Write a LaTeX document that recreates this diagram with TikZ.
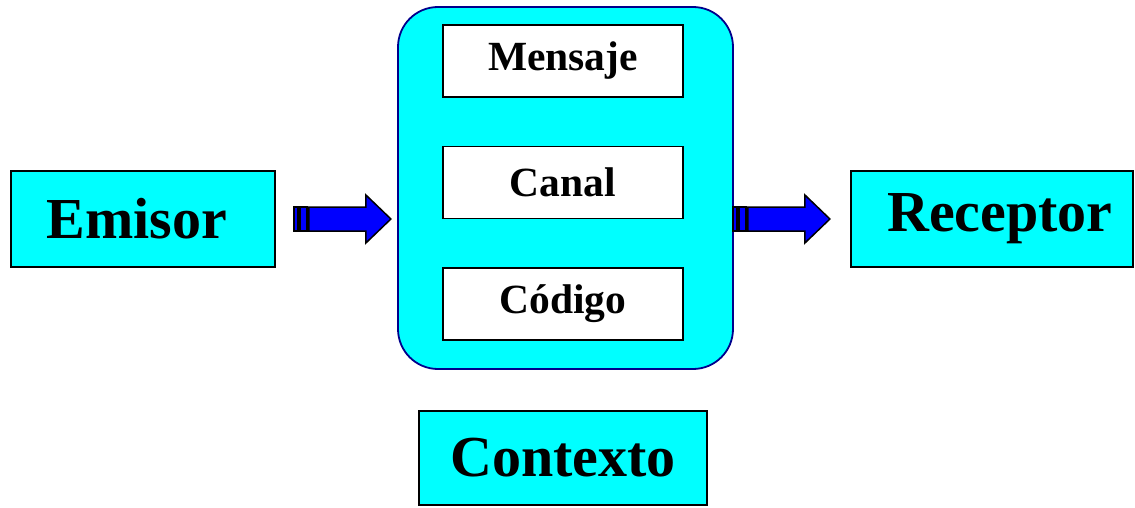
\documentclass[tikz,border=0pt]{standalone}
\usepackage{fontspec}
\setmainfont{Liberation Serif}
\usetikzlibrary{positioning, calc}

\definecolor{boxcyan}{RGB}{0,255,255}
\definecolor{arrowblue}{RGB}{0,0,255}
\definecolor{framenavy}{RGB}{0,0,140}

\begin{document}
\begin{tikzpicture}[
    x=1pt, y=1pt,
    node distance=48pt,
    bigbox/.style={rectangle, draw, line width=1.8pt, fill=boxcyan, text centered, minimum height=96pt, font=\fontsize{58}{60}\selectfont\bfseries},
    element/.style={rectangle, draw, line width=1.6pt, fill=white, text centered, minimum width=240pt, minimum height=72pt, font=\fontsize{41.5}{42}\selectfont\bfseries},
    arrowline/.style={draw=black, line width=1.5pt, fill=arrowblue, line join=miter},
    flecha/.pic={
        \draw[arrowline] (0,-12) rectangle (4,12);
        \draw[arrowline] (6,-12) rectangle (13,12);
        \draw[arrowline] (15,-12) -- (72,-12) -- (72,-24) -- (97,0) -- (72,24) -- (72,12) -- (15,12) -- cycle;
    },
]
\useasboundingbox (0,0) rectangle (1135,507);

% Rounded container with the three elements
\node[rectangle, draw=framenavy, line width=1.8pt, fill=boxcyan, rounded corners=40pt,
      minimum width=335pt, minimum height=362pt] (centro) at (565.5,319) {};
\node[element] (canal) at (563,324.5) {Canal};
\node[element, above=of canal] (mensaje) {Mensaje};
\node[element, below=of canal] (codigo) {Código};

% Sender, receiver and context
\node[bigbox, minimum width=264pt, execute at begin node={\hspace*{-12pt}}] (emisor) at (143,288) {Emisor};
\node[bigbox, minimum width=282pt, execute at begin node={\hspace*{16pt}}] (receptor) at (992,288) {Receptor};
\node[bigbox, minimum width=288pt, minimum height=94pt] (contexto) at (563,49) {Contexto};

% Arrows
\pic at ($(emisor.east)+(18,0)$) {flecha};
\pic at ($(centro.east |- receptor.west)+(-1,0)$) {flecha};

\end{tikzpicture}
\end{document}
